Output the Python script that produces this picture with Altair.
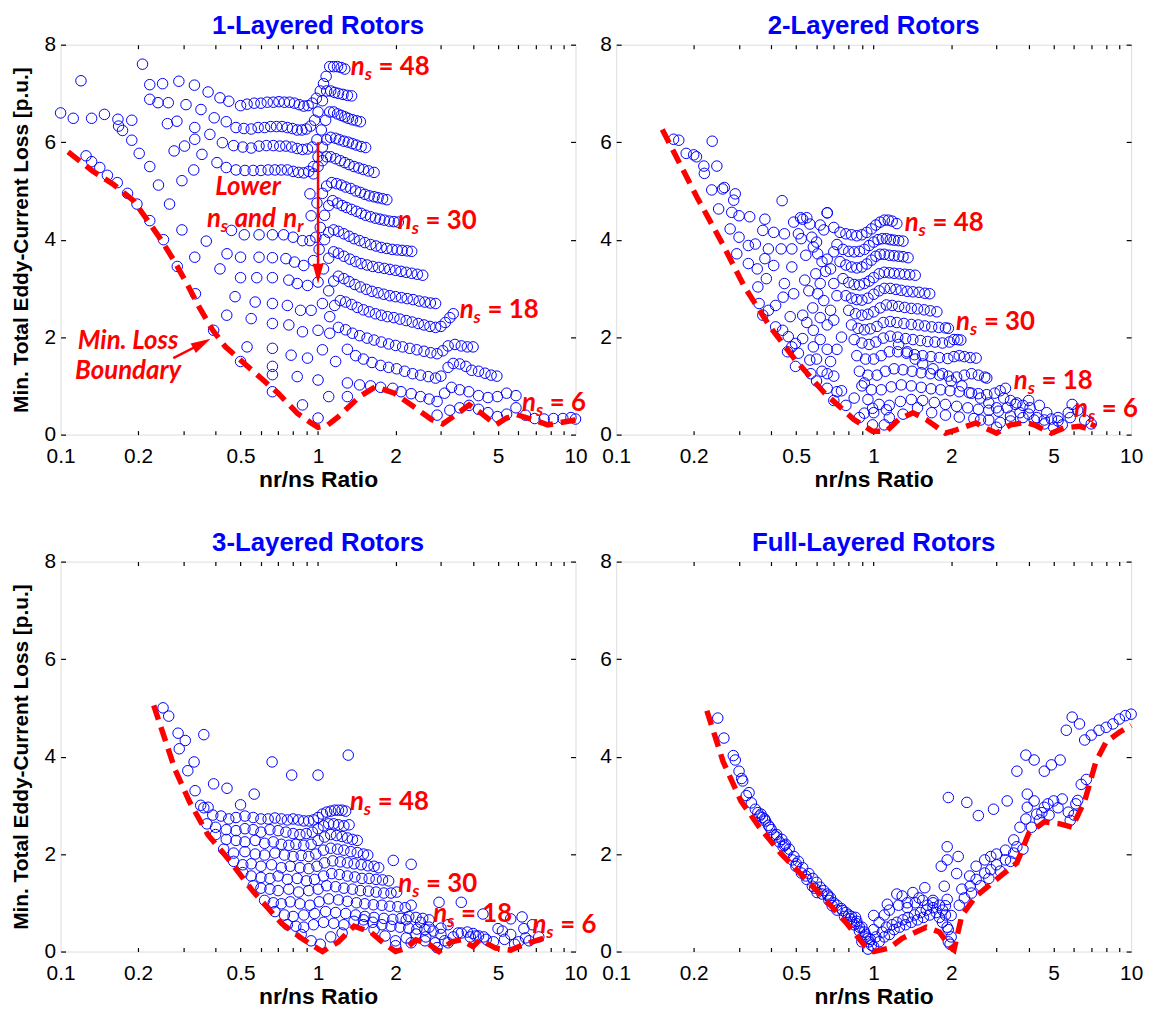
import altair as alt
import pandas as pd

FONT = "Liberation Sans"
ANN_FONT = "Lato"
BLUE = "#0000FF"
RED = "#FF0000"

PANEL_TITLES = ["1-Layered Rotors", "2-Layered Rotors", "3-Layered Rotors", "Full-Layered Rotors"]
X_LABEL_VALUES = [0.1, 0.2, 0.5, 1, 2, 5, 10]
X_TICK_VALUES = [0.2, 0.3, 0.4, 0.5, 0.6, 0.7, 0.8, 0.9, 1, 2, 3, 4, 5, 6, 7, 8, 9]
Y_VALUES = [0, 2, 4, 6, 8]

# ---------------- Panel 1 : 1-layered rotors ----------------
P1_POINTS = [
    (0.100, 6.60), (0.112, 6.49), (0.120, 7.26), (0.1256, 5.72), (0.132, 5.60), (0.132, 6.49), (0.142, 5.48),
    (0.148, 6.57), (0.152, 5.32), (0.166, 5.17), (0.167, 6.47), (0.168, 6.33), (0.174, 6.24), (0.182, 4.95),
    (0.189, 6.45), (0.189, 6.04), (0.198, 4.73), (0.202, 5.77), (0.208, 7.60), (0.222, 7.18), (0.222, 6.88),
    (0.222, 5.50), (0.222, 4.39), (0.239, 6.81), (0.240, 5.12), (0.249, 7.20), (0.251, 4.00), (0.260, 6.38),
    (0.262, 6.81), (0.265, 4.73), (0.276, 5.82), (0.283, 6.43), (0.284, 3.45), (0.288, 7.25), (0.296, 5.21),
    (0.296, 4.20), (0.303, 5.92), (0.307, 6.77), (0.329, 5.43), (0.331, 7.17), (0.332, 6.30), (0.332, 6.06),
    (0.351, 6.67), (0.354, 5.75), (0.374, 7.03), (0.380, 6.16), (0.395, 6.50), (0.405, 5.58), (0.416, 6.91),
    (0.425, 5.99),
    # row 1
    (0.450, 6.84), (0.500, 6.75), (0.530, 6.78), (0.565, 6.80), (0.600, 6.80), (0.635, 6.82), (0.670, 6.82),
    (0.705, 6.83), (0.740, 6.82), (0.775, 6.82), (0.810, 6.80), (0.845, 6.77), (0.880, 6.74), (0.915, 6.75),
    (0.950, 6.80), (0.985, 6.90), (1.020, 7.05), (1.050, 7.20), (1.075, 7.35), (1.110, 7.55), (1.150, 7.55),
    (1.190, 7.55), (1.230, 7.53), (1.270, 7.50),
    # row 2
    (0.440, 6.42), (0.480, 6.30), (0.515, 6.28), (0.550, 6.27), (0.585, 6.30), (0.620, 6.30), (0.655, 6.32),
    (0.690, 6.32), (0.725, 6.32), (0.760, 6.30), (0.795, 6.28), (0.830, 6.25), (0.865, 6.25), (0.900, 6.27),
    (0.935, 6.33), (0.970, 6.45), (1.000, 6.62), (1.040, 6.85), (1.080, 7.05), (1.120, 7.05), (1.160, 7.02),
    (1.200, 7.00), (1.250, 6.98), (1.300, 6.96), (1.350, 6.95),
    # row 3
    (0.470, 5.93), (0.510, 5.90), (0.550, 5.88), (0.590, 5.92), (0.630, 5.93), (0.670, 5.93), (0.710, 5.92),
    (0.750, 5.92), (0.790, 5.90), (0.830, 5.87), (0.870, 5.85), (0.910, 5.86), (0.950, 5.90), (0.990, 6.05),
    (1.030, 6.25), (1.070, 6.45), (1.110, 6.62), (1.150, 6.62), (1.190, 6.58), (1.230, 6.55), (1.270, 6.52),
    (1.310, 6.49), (1.360, 6.46), (1.410, 6.44), (1.460, 6.42),
    # row 4
    (0.440, 5.48), (0.480, 5.43), (0.520, 5.42), (0.560, 5.42), (0.600, 5.42), (0.640, 5.43), (0.680, 5.43),
    (0.720, 5.43), (0.760, 5.43), (0.800, 5.40), (0.840, 5.38), (0.880, 5.37), (0.920, 5.40), (0.960, 5.50),
    (1.000, 5.70), (1.040, 5.90), (1.080, 6.05), (1.120, 6.10), (1.170, 6.08), (1.210, 6.05), (1.260, 6.02),
    (1.310, 6.00), (1.360, 5.97), (1.410, 5.94), (1.470, 5.91), (1.530, 5.89),
    # row 5
    (0.960, 5.35), (1.000, 5.50), (1.040, 5.62), (1.080, 5.70), (1.120, 5.70), (1.170, 5.66), (1.220, 5.62),
    (1.270, 5.58), (1.320, 5.54), (1.380, 5.50), (1.440, 5.47), (1.500, 5.44), (1.570, 5.41), (1.650, 5.38),
    # row 6
    (0.930, 4.94), (0.940, 4.49), (0.990, 4.75), (1.040, 4.95), (1.080, 5.10), (1.130, 5.17), (1.180, 5.15),
    (1.230, 5.12), (1.280, 5.08), (1.340, 5.05), (1.400, 5.00), (1.460, 4.97), (1.520, 4.93), (1.580, 4.90),
    (1.650, 4.88), (1.710, 4.86), (1.780, 4.84), (1.850, 4.82),
    # row 7
    (0.461, 4.19), (0.517, 4.10), (0.590, 4.10), (0.665, 4.10), (0.735, 4.10), (0.800, 4.05), (0.870, 3.98),
    (0.930, 3.98), (0.980, 4.05), (1.020, 4.25), (1.060, 4.50), (1.100, 4.70), (1.140, 4.80), (1.190, 4.75),
    (1.240, 4.70), (1.290, 4.66), (1.350, 4.62), (1.410, 4.58), (1.470, 4.54), (1.530, 4.50), (1.600, 4.47),
    (1.670, 4.44), (1.740, 4.42), (1.810, 4.40), (1.890, 4.38), (1.970, 4.37), (2.050, 4.36),
    # row 8
    (0.368, 3.97), (0.443, 3.71), (0.500, 3.64), (0.590, 3.64), (0.665, 3.63), (0.750, 3.61), (0.810, 3.54),
    (0.880, 3.47), (0.960, 3.57), (1.010, 3.80), (1.060, 4.00), (1.100, 4.15), (1.150, 4.20), (1.200, 4.17),
    (1.260, 4.12), (1.320, 4.07), (1.380, 4.02), (1.450, 3.98), (1.520, 3.94), (1.600, 3.90), (1.680, 3.87),
    (1.760, 3.84), (1.850, 3.82), (1.940, 3.80), (2.030, 3.79), (2.120, 3.78), (2.220, 3.77), (2.310, 3.76),
    # row 9
    (0.332, 3.64), (0.416, 3.40), (0.500, 3.22), (0.578, 3.22), (0.665, 3.22), (0.770, 3.17), (0.830, 3.10),
    (0.910, 3.06), (1.000, 3.13), (1.050, 3.40), (1.100, 3.62), (1.150, 3.75), (1.200, 3.72), (1.260, 3.66),
    (1.330, 3.60), (1.400, 3.55), (1.470, 3.51), (1.550, 3.48), (1.630, 3.45), (1.720, 3.43), (1.810, 3.41),
    (1.900, 3.39), (2.000, 3.37), (2.100, 3.35), (2.200, 3.33), (2.310, 3.31), (2.430, 3.29), (2.550, 3.27),
    # row 10
    (0.334, 2.89), (0.476, 2.83), (0.570, 2.72), (0.665, 2.69), (0.760, 2.65), (0.855, 2.55), (0.940, 2.55),
    (1.040, 2.69), (1.100, 2.95), (1.150, 3.15), (1.200, 3.25), (1.260, 3.20), (1.320, 3.14), (1.390, 3.08),
    (1.460, 3.03), (1.540, 2.98), (1.620, 2.94), (1.710, 2.91), (1.800, 2.88), (1.900, 2.85), (2.000, 2.83),
    (2.110, 2.81), (2.220, 2.79), (2.340, 2.77), (2.470, 2.74), (2.600, 2.72), (2.730, 2.70), (2.860, 2.69),
    # row 11
    (0.393, 2.14), (0.442, 2.45), (0.550, 2.38), (0.665, 2.28), (0.770, 2.25), (0.870, 2.11), (1.000, 2.14),
    (1.110, 2.42), (1.160, 2.65), (1.220, 2.75), (1.280, 2.72), (1.350, 2.67), (1.420, 2.61), (1.500, 2.56),
    (1.580, 2.52), (1.670, 2.48), (1.760, 2.45), (1.860, 2.42), (1.970, 2.40), (2.080, 2.37), (2.200, 2.34),
    (2.320, 2.31), (2.450, 2.28), (2.580, 2.25), (2.720, 2.22), (2.860, 2.20), (3.000, 2.22), (3.120, 2.30),
    (3.250, 2.40), (3.350, 2.48),
    # row 12
    (0.500, 1.50), (0.530, 1.80), (0.665, 1.77), (0.786, 1.63), (0.910, 1.57), (1.040, 1.74), (1.110, 2.08),
    (1.200, 2.20), (1.280, 2.15), (1.360, 2.08), (1.450, 2.03), (1.550, 1.98), (1.650, 1.94), (1.760, 1.90),
    (1.880, 1.86), (2.000, 1.83), (2.130, 1.80), (2.270, 1.77), (2.420, 1.74), (2.580, 1.71), (2.740, 1.68),
    (2.900, 1.66), (3.050, 1.72), (3.200, 1.82), (3.400, 1.85), (3.600, 1.82), (3.800, 1.80), (4.000, 1.80),
    # row 13
    (0.665, 1.40), (0.665, 1.23), (0.830, 1.19), (1.000, 1.12), (1.170, 1.50), (1.300, 1.75), (1.400, 1.62),
    (1.500, 1.55), (1.620, 1.48), (1.750, 1.42), (1.880, 1.38), (2.020, 1.35), (2.170, 1.30), (2.330, 1.25),
    (2.500, 1.22), (2.680, 1.19), (2.860, 1.16), (3.000, 1.20), (3.200, 1.38), (3.350, 1.46), (3.550, 1.45),
    (3.750, 1.40), (3.950, 1.32), (4.200, 1.30), (4.450, 1.26), (4.700, 1.22), (4.950, 1.20),
    # row 14
    (0.665, 0.88), (0.870, 0.61), (1.000, 0.34), (1.100, 0.78), (1.300, 1.06), (1.300, 0.78), (1.450, 1.02),
    (1.600, 1.00), (1.750, 0.97), (1.950, 0.95), (2.100, 0.88), (2.300, 0.84), (2.500, 0.78), (2.700, 0.73),
    (2.900, 0.68), (3.100, 0.85), (3.300, 0.97), (3.550, 0.92), (3.850, 0.88), (4.200, 0.80), (4.570, 0.76),
    (4.970, 0.78), (5.400, 0.85), (5.870, 0.80),
    # row 15 (ns = 6)
    (2.900, 0.40), (3.250, 0.50), (3.550, 0.55), (3.860, 0.60), (4.200, 0.52), (4.570, 0.45), (4.970, 0.37),
    (5.400, 0.42), (5.870, 0.55), (6.390, 0.40), (6.940, 0.33), (7.550, 0.32), (8.210, 0.33), (8.930, 0.33),
    (9.600, 0.35), (10.00, 0.32),
]
P1_BOUNDARY = [
    (0.107, 5.80), (0.133, 5.41), (0.160, 5.14), (0.192, 4.80), (0.220, 4.36), (0.247, 3.98), (0.278, 3.54),
    (0.312, 3.06), (0.345, 2.62), (0.390, 2.14), (0.437, 1.80), (0.517, 1.46), (0.612, 1.12), (0.700, 0.85),
    (0.830, 0.44), (0.940, 0.24), (1.000, 0.15), (1.080, 0.18), (1.200, 0.37), (1.450, 0.78), (1.670, 0.98),
    (1.980, 0.85), (2.340, 0.58), (2.760, 0.31), (3.050, 0.22), (3.500, 0.44), (3.860, 0.61), (4.300, 0.44),
    (4.900, 0.20), (5.400, 0.34), (5.900, 0.41), (6.800, 0.31), (7.800, 0.20), (8.600, 0.24), (10.00, 0.30),
]
P1_NS_LABELS = [(1.34, 7.55, "= 48"), (2.04, 4.39, "= 30"), (3.55, 2.55, "= 18"), (6.2, 0.65, "= 6")]

# ---------------- Panel 2 : 2-layered rotors ----------------
P2_POINTS = [
    (0.167, 6.06), (0.175, 6.04), (0.187, 5.77), (0.200, 5.74), (0.205, 5.70), (0.219, 5.51), (0.220, 5.36),
    (0.236, 6.02), (0.246, 5.51), (0.235, 5.02), (0.259, 5.04), (0.263, 5.07), (0.250, 4.63), (0.290, 4.94),
    (0.286, 4.81), (0.281, 4.56), (0.277, 4.22), (0.300, 4.49), (0.330, 4.47), (0.300, 4.05), (0.294, 3.71),
    (0.326, 3.88), (0.347, 3.91), (0.326, 3.51), (0.353, 3.40), (0.378, 4.42), (0.371, 4.19), (0.409, 4.15),
    (0.390, 3.81), (0.378, 3.61), (0.409, 3.47), (0.383, 3.20), (0.355, 3.03), (0.359, 2.69), (0.390, 2.55),
    (0.371, 2.45), (0.416, 2.65), (0.416, 2.21), (0.443, 2.14), (0.441, 4.80), (0.450, 4.12), (0.437, 3.81),
    (0.481, 3.81), (0.481, 3.44), (0.450, 3.10), (0.489, 2.89), (0.445, 2.82), (0.474, 2.42), (0.466, 2.01),
    (0.481, 1.80), (0.463, 1.70), (0.497, 1.87), (0.497, 1.40), (0.510, 1.67), (0.530, 1.97), (0.530, 2.45),
    (0.540, 3.17), (0.545, 3.68), (0.523, 4.02), (0.489, 4.36), (0.530, 4.42), (0.565, 4.32), (0.510, 4.12),
    (0.583, 3.85), (0.575, 4.05), (0.606, 3.71), (0.596, 3.30), (0.606, 2.89), (0.583, 2.14), (0.583, 1.80),
    (0.565, 1.53), (0.520, 4.45), (0.550, 4.45), (0.620, 4.30), (0.640, 4.20), (0.660, 4.55), (0.600, 3.95),
    (0.630, 3.55), (0.650, 3.35), (0.620, 3.10), (0.560, 2.95), (0.640, 2.75), (0.580, 2.60), (0.620, 2.40),
    (0.660, 2.25), (0.550, 2.30), (0.620, 1.95), (0.660, 1.75), (0.600, 1.55), (0.630, 1.30), (0.570, 1.25),
    (0.600, 1.10), (0.660, 0.95), (0.700, 0.70), (0.750, 0.90), (0.780, 0.60), (0.840, 0.75), (0.880, 0.35),
    (0.920, 0.44), (0.990, 0.20), (1.100, 0.20), (0.990, 0.54), (1.120, 0.51), (0.920, 1.06), (0.700, 1.20),
    (0.720, 0.88), (0.660, 1.25), (0.680, 1.50), (0.720, 1.75), (0.750, 2.00), (0.700, 2.35), (0.680, 2.55),
    (0.720, 2.85), (0.700, 3.10), (0.680, 3.40), (0.660, 3.60), (0.700, 3.75),
    # rows
    (0.66, 4.55), (0.70, 4.25), (0.74, 4.15), (0.78, 4.12), (0.82, 4.10), (0.86, 4.08), (0.90, 4.10),
    (0.94, 4.15), (0.98, 4.22), (1.02, 4.30), (1.06, 4.36), (1.10, 4.40), (1.14, 4.40), (1.18, 4.38), (1.23, 4.33),
    (0.72, 3.90), (0.76, 3.80), (0.80, 3.76), (0.84, 3.75), (0.88, 3.76), (0.92, 3.80), (0.96, 3.88), (1.00, 3.95),
    (1.04, 4.00), (1.08, 4.02), (1.12, 4.02), (1.16, 4.00), (1.20, 3.99), (1.25, 3.98), (1.30, 3.97),
    (0.74, 3.55), (0.78, 3.48), (0.82, 3.44), (0.86, 3.42), (0.90, 3.44), (0.94, 3.50), (0.98, 3.58), (1.02, 3.66),
    (1.06, 3.70), (1.10, 3.70), (1.15, 3.68), (1.20, 3.67), (1.25, 3.66), (1.30, 3.65), (1.36, 3.63),
    (0.76, 3.20), (0.80, 3.12), (0.84, 3.08), (0.88, 3.07), (0.92, 3.10), (0.96, 3.15), (1.00, 3.22), (1.05, 3.30),
    (1.10, 3.33), (1.15, 3.32), (1.20, 3.31), (1.26, 3.30), (1.32, 3.29), (1.38, 3.28), (1.45, 3.27),
    (0.78, 2.85), (0.82, 2.80), (0.86, 2.77), (0.90, 2.76), (0.95, 2.80), (1.00, 2.88), (1.05, 2.95), (1.10, 3.00),
    (1.16, 3.00), (1.22, 2.98), (1.28, 2.96), (1.35, 2.94), (1.42, 2.93), (1.50, 2.92), (1.58, 2.90), (1.65, 2.89),
    (0.80, 2.55), (0.85, 2.48), (0.90, 2.45), (0.95, 2.47), (1.00, 2.52), (1.06, 2.60), (1.12, 2.66), (1.18, 2.65),
    (1.25, 2.63), (1.32, 2.61), (1.40, 2.59), (1.48, 2.58), (1.57, 2.56), (1.66, 2.54), (1.76, 2.52),
    (0.82, 2.25), (0.87, 2.18), (0.92, 2.15), (0.97, 2.17), (1.03, 2.22), (1.09, 2.30), (1.16, 2.32), (1.23, 2.30),
    (1.31, 2.28), (1.40, 2.26), (1.49, 2.25), (1.58, 2.23), (1.68, 2.21), (1.79, 2.20), (1.90, 2.19), (1.95, 2.18),
    (0.84, 1.95), (0.90, 1.88), (0.96, 1.85), (1.02, 1.90), (1.09, 1.98), (1.16, 2.02), (1.24, 2.00), (1.33, 1.97),
    (1.42, 1.95), (1.52, 1.93), (1.62, 1.91), (1.73, 1.90), (1.85, 1.88), (1.97, 1.90), (2.05, 1.95), (2.12, 1.95),
    (2.18, 1.94),
    (0.86, 1.62), (0.93, 1.55), (1.00, 1.55), (1.07, 1.62), (1.15, 1.70), (1.24, 1.70), (1.34, 1.67), (1.44, 1.64),
    (1.55, 1.62), (1.67, 1.60), (1.80, 1.58), (1.94, 1.56), (2.05, 1.60), (2.15, 1.62), (2.25, 1.60), (2.37, 1.58),
    (2.50, 1.57),
    (0.88, 1.30), (0.95, 1.22), (1.03, 1.22), (1.11, 1.30), (1.20, 1.35), (1.30, 1.33), (1.41, 1.30), (1.53, 1.27),
    (1.66, 1.25), (1.80, 1.22), (1.95, 1.20), (2.10, 1.18), (2.25, 1.22), (2.40, 1.25), (2.55, 1.22), (2.70, 1.18),
    (2.75, 1.16),
    (0.90, 1.00), (0.98, 0.92), (1.07, 0.92), (1.17, 0.98), (1.28, 1.02), (1.40, 1.00), (1.53, 0.97), (1.67, 0.94),
    (1.82, 0.92), (1.98, 0.90), (2.15, 0.88), (2.35, 0.86), (2.55, 0.84), (2.75, 0.82), (2.95, 0.85), (3.10, 0.90),
    (3.25, 0.95),
    (0.95, 0.72), (1.05, 0.62), (1.15, 0.60), (1.27, 0.68), (1.40, 0.72), (1.55, 0.70), (1.72, 0.66), (1.90, 0.62),
    (2.10, 0.58), (2.32, 0.55), (2.55, 0.52), (2.80, 0.50), (3.05, 0.48), (3.30, 0.55), (3.55, 0.62), (3.80, 0.60),
    (4.05, 0.55),
    (1.00, 0.45), (1.15, 0.35), (1.30, 0.42), (1.48, 0.55), (1.68, 0.45), (1.90, 0.40), (2.15, 0.36), (2.45, 0.33),
    (2.80, 0.30), (3.10, 0.25), (3.40, 0.38), (3.70, 0.45), (4.00, 0.42), (4.30, 0.35), (4.60, 0.30), (4.90, 0.32),
    (5.20, 0.28),
    (2.60, 0.30), (3.00, 0.15), (3.40, 0.28), (3.80, 0.35), (4.20, 0.30), (4.60, 0.22), (5.00, 0.15), (5.40, 0.20),
    (5.80, 0.35), (6.20, 0.50), (6.60, 0.30), (7.00, 0.22),
    (4.00, 0.70), (3.60, 0.65), (4.40, 0.60), (5.90, 0.62), (5.70, 0.45), (3.20, 0.75), (3.40, 0.70), (4.70, 0.45),
    (5.20, 0.35), (3.00, 0.55), (2.80, 0.65), (2.60, 0.75), (2.40, 0.85), (2.20, 1.00), (2.00, 1.10), (1.85, 1.25),
    (1.70, 1.35), (1.55, 1.45), (1.45, 1.55), (1.35, 1.70), (1.25, 1.85),
]
P2_BOUNDARY = [
    (0.151, 6.26), (0.206, 4.87), (0.259, 3.91), (0.315, 3.03), (0.396, 2.21), (0.497, 1.53), (0.645, 0.85),
    (0.838, 0.31), (0.990, 0.07), (1.120, 0.07), (1.250, 0.31), (1.420, 0.45), (1.600, 0.31), (1.900, 0.03),
    (2.100, 0.10), (2.500, 0.24), (2.700, 0.14), (3.000, 0.03), (3.400, 0.20), (3.900, 0.25), (4.200, 0.20),
    (4.900, 0.03), (5.500, 0.14), (6.300, 0.17), (7.000, 0.10), (7.200, 0.24),
]
P2_NS_LABELS = [(1.32, 4.34, "= 48"), (2.09, 2.31, "= 30"), (3.5, 1.09, "= 18"), (6.0, 0.52, "= 6")]

# ---------------- Panel 3 : 3-layered rotors ----------------
P3_POINTS = [
    (0.250, 5.00), (0.263, 4.83), (0.286, 4.48), (0.305, 4.33), (0.289, 4.16), (0.360, 4.45), (0.330, 3.89),
    (0.312, 3.71), (0.333, 3.30), (0.350, 3.00), (0.393, 3.44), (0.443, 3.35), (0.374, 2.96), (0.500, 3.01),
    (0.565, 3.23), (0.663, 3.89), (0.790, 3.62), (1.000, 3.62), (1.310, 4.03), (1.960, 1.87), (2.300, 1.79),
    (2.950, 1.01), (3.600, 1.01),
    (0.36, 2.95), (0.39, 2.80), (0.42, 2.78), (0.45, 2.72), (0.48, 2.75), (0.52, 2.78), (0.56, 2.75), (0.60, 2.72),
    (0.64, 2.72), (0.68, 2.74), (0.72, 2.72), (0.76, 2.70), (0.80, 2.72), (0.84, 2.70), (0.88, 2.68), (0.92, 2.68),
    (0.96, 2.70), (1.00, 2.75), (1.04, 2.82), (1.08, 2.86), (1.12, 2.88), (1.16, 2.90), (1.20, 2.90), (1.24, 2.90),
    (1.28, 2.88),
    (0.37, 2.62), (0.40, 2.55), (0.44, 2.50), (0.48, 2.48), (0.52, 2.52), (0.56, 2.50), (0.60, 2.45), (0.65, 2.50),
    (0.70, 2.48), (0.75, 2.45), (0.80, 2.42), (0.85, 2.40), (0.90, 2.42), (0.95, 2.45), (1.00, 2.52), (1.05, 2.58),
    (1.10, 2.62), (1.15, 2.62), (1.20, 2.60), (1.26, 2.58), (1.32, 2.60),
    (0.40, 2.40), (0.44, 2.30), (0.48, 2.28), (0.52, 2.25), (0.57, 2.28), (0.62, 2.22), (0.67, 2.25), (0.72, 2.20),
    (0.77, 2.18), (0.82, 2.20), (0.88, 2.18), (0.94, 2.20), (1.00, 2.28), (1.06, 2.35), (1.12, 2.40), (1.18, 2.38),
    (1.24, 2.36), (1.30, 2.33), (1.36, 2.30), (1.42, 2.28),
    (0.43, 2.10), (0.47, 2.02), (0.52, 2.05), (0.57, 2.00), (0.62, 1.98), (0.68, 2.02), (0.74, 1.98), (0.80, 1.95),
    (0.86, 1.97), (0.92, 1.95), (0.98, 2.00), (1.05, 2.08), (1.12, 2.12), (1.19, 2.10), (1.26, 2.08), (1.34, 2.05),
    (1.42, 2.03), (1.50, 2.00), (1.56, 1.98),
    (0.47, 1.85), (0.51, 1.78), (0.55, 1.80), (0.60, 1.75), (0.66, 1.78), (0.72, 1.72), (0.78, 1.75), (0.85, 1.72),
    (0.92, 1.70), (0.99, 1.75), (1.06, 1.82), (1.14, 1.86), (1.22, 1.84), (1.30, 1.82), (1.38, 1.80), (1.47, 1.78),
    (1.56, 1.76), (1.65, 1.75), (1.72, 1.72),
    (0.51, 1.62), (0.55, 1.55), (0.60, 1.52), (0.65, 1.50), (0.70, 1.55), (0.76, 1.48), (0.83, 1.50), (0.90, 1.45),
    (0.97, 1.48), (1.05, 1.55), (1.13, 1.60), (1.21, 1.58), (1.30, 1.55), (1.39, 1.53), (1.48, 1.50), (1.58, 1.50),
    (1.68, 1.48), (1.78, 1.47), (1.88, 1.45),
    (0.56, 1.35), (0.60, 1.30), (0.65, 1.28), (0.70, 1.25), (0.77, 1.28), (0.84, 1.22), (0.92, 1.25), (1.00, 1.28),
    (1.08, 1.35), (1.17, 1.33), (1.26, 1.30), (1.36, 1.28), (1.46, 1.25), (1.57, 1.24), (1.68, 1.22), (1.80, 1.20),
    (1.92, 1.20), (2.02, 1.22),
    (0.62, 1.05), (0.67, 1.00), (0.72, 0.98), (0.78, 1.02), (0.85, 0.98), (0.93, 0.95), (1.01, 1.02), (1.10, 1.08),
    (1.20, 1.06), (1.30, 1.03), (1.41, 1.00), (1.52, 0.98), (1.64, 0.96), (1.77, 0.95), (1.90, 0.93), (2.04, 0.92),
    (2.18, 0.90), (2.30, 0.95),
    (0.68, 0.82), (0.74, 0.75), (0.80, 0.72), (0.88, 0.75), (0.97, 0.78), (1.07, 0.82), (1.17, 0.80), (1.28, 0.78),
    (1.40, 0.75), (1.52, 0.72), (1.65, 0.70), (1.80, 0.68), (1.95, 0.66), (2.10, 0.68), (2.25, 0.72), (2.40, 0.70),
    (2.55, 0.68), (2.70, 0.65),
    (0.76, 0.55), (0.82, 0.52), (0.88, 0.50), (0.96, 0.55), (1.05, 0.60), (1.15, 0.58), (1.26, 0.55), (1.38, 0.62),
    (1.50, 0.65), (1.63, 0.60), (1.77, 0.55), (1.92, 0.52), (2.08, 0.50), (2.25, 0.48), (2.42, 0.46), (2.60, 0.45),
    (2.80, 0.42), (3.00, 0.48), (3.20, 0.55),
    (0.86, 0.35), (0.94, 0.22), (1.02, 0.15), (1.12, 0.30), (1.24, 0.38), (1.50, 0.55), (1.65, 0.45), (1.82, 0.32),
    (2.00, 0.22), (2.20, 0.28), (2.40, 0.36), (2.62, 0.30), (2.85, 0.18), (3.10, 0.22), (3.35, 0.30), (3.60, 0.38),
    (3.90, 0.30), (4.20, 0.32), (4.50, 0.25),
    (2.00, 0.12), (2.30, 0.18), (2.60, 0.22), (2.90, 0.08), (3.20, 0.18), (3.50, 0.38), (3.80, 0.40), (4.10, 0.32),
    (4.40, 0.30), (4.80, 0.20), (5.20, 0.42), (5.60, 0.35), (6.00, 0.20), (6.40, 0.28), (6.80, 0.55), (7.20, 0.30),
    (4.37, 0.77), (5.00, 0.47), (5.60, 0.67), (6.20, 0.71), (6.30, 0.47), (4.00, 0.37), (5.30, 0.25), (5.80, 0.15),
    (6.60, 0.22), (3.00, 0.35), (2.70, 0.50), (2.50, 0.60), (2.20, 0.65),
]
P3_BOUNDARY = [
    (0.230, 5.05), (0.278, 3.74), (0.317, 3.07), (0.374, 2.39), (0.456, 1.85), (0.556, 1.25), (0.724, 0.57),
    (0.880, 0.24), (1.040, 0.00), (1.200, 0.20), (1.380, 0.52), (1.600, 0.40), (1.800, 0.17), (2.000, 0.00),
    (2.200, 0.07), (2.400, 0.24), (2.700, 0.15), (2.950, 0.00), (3.300, 0.20), (3.600, 0.24), (4.000, 0.10),
    (4.250, 0.24), (4.900, 0.07), (5.600, 0.03), (6.000, 0.10), (6.800, 0.20), (7.500, 0.27),
]
P3_NS_LABELS = [(1.33, 3.07, "= 48"), (2.05, 1.39, "= 30"), (2.8, 0.77, "= 18"), (6.8, 0.54, "= 6")]

# ---------------- Panel 4 : full-layered rotors ----------------
P4_POINTS = [
    (0.248, 4.79), (0.262, 4.38), (0.285, 4.02), (0.290, 3.93), (0.307, 3.55), (0.328, 3.26), (0.347, 2.92),
    (0.365, 2.82), (0.377, 2.72), (0.390, 2.59), (0.410, 2.39), (0.430, 2.25), (0.445, 2.15), (0.460, 2.02),
    (0.483, 1.88), (0.499, 1.75), (0.524, 1.61), (0.550, 1.48), (0.578, 1.34), (0.603, 1.21), (0.665, 1.14),
    (0.690, 0.94), (0.757, 0.84), (0.810, 0.67), (0.860, 0.57), (0.920, 0.40), (0.950, 0.27), (0.980, 0.13),
    (0.370, 2.75), (0.380, 2.68), (0.400, 2.50), (0.420, 2.40), (0.440, 2.30), (0.455, 2.20), (0.470, 2.10),
    (0.490, 1.95), (0.510, 1.85), (0.530, 1.72), (0.560, 1.60), (0.580, 1.50), (0.600, 1.42), (0.620, 1.32),
    (0.640, 1.25), (0.660, 1.18), (0.680, 1.10), (0.700, 1.00), (0.720, 0.95), (0.750, 0.88), (0.780, 0.80),
    (0.820, 0.72), (0.860, 0.62), (0.900, 0.50), (0.355, 2.85), (0.335, 3.05), (0.320, 3.20), (0.300, 3.70),
    (0.310, 3.50), (0.360, 2.78), (0.395, 2.55), (0.420, 2.35), (0.450, 2.18), (0.500, 1.80), (0.545, 1.55),
    (0.590, 1.30), (0.630, 1.18), (0.670, 1.05), (0.720, 0.85), (0.770, 0.72), (0.840, 0.55), (0.880, 0.42),
    (0.930, 0.30), (0.960, 0.20),
    (1.00, 0.10), (1.02, 0.30), (1.05, 0.20), (1.08, 0.40), (1.10, 0.30), (1.12, 0.50), (1.15, 0.35), (1.18, 0.55),
    (1.20, 0.45), (1.23, 0.60), (1.26, 0.50), (1.30, 0.65), (1.33, 0.55), (1.36, 0.70), (1.40, 0.60), (1.44, 0.75),
    (1.48, 0.65), (1.52, 0.80), (1.56, 0.70), (1.60, 0.85), (1.65, 0.75), (1.70, 0.90), (1.75, 0.80), (1.80, 0.95),
    (1.85, 0.85), (1.90, 0.75), (1.05, 0.60), (1.10, 0.75), (1.15, 0.85), (1.25, 0.95), (1.35, 0.90), (1.45, 1.00),
    (1.55, 1.05), (1.70, 1.00), (1.80, 0.70), (1.85, 0.60), (1.95, 0.45), (2.00, 0.30), (1.98, 0.15), (0.95, 0.05),
    (0.90, 0.20), (0.93, 0.35), (0.97, 0.25), (1.00, 0.45), (0.88, 0.50), (0.85, 0.70), (0.82, 0.60), (0.80, 0.75),
    (1.00, 0.74), (1.13, 0.97), (1.23, 1.18), (1.29, 1.14), (1.42, 1.21), (1.58, 1.31), (1.35, 1.00), (1.50, 1.10),
    (1.62, 0.95), (1.70, 1.05),
    (1.83, 1.75), (1.93, 2.15), (1.95, 3.16), (1.93, 1.88), (1.88, 1.34), (1.93, 1.07), (1.90, 0.94), (2.00, 0.74),
    (1.93, 0.50), (1.95, 0.20), (2.13, 1.95), (2.10, 1.60),
    (2.30, 3.06), (2.55, 2.79), (2.92, 2.92), (3.30, 3.09), (3.60, 3.70), (3.90, 4.03), (4.20, 3.93), (4.60, 3.70),
    (4.90, 3.83), (5.30, 3.93), (5.60, 4.54), (5.90, 4.81), (6.30, 4.67), (6.60, 4.34), (7.00, 4.44), (7.50, 4.54),
    (8.00, 4.60), (8.50, 4.67), (9.00, 4.77), (9.50, 4.84), (10.00, 4.87),
    (2.36, 1.55), (2.50, 1.75), (2.70, 1.88), (2.85, 1.95), (3.00, 2.00), (3.25, 2.08), (3.50, 2.29), (3.70, 2.55),
    (3.90, 2.72), (3.95, 2.96), (3.95, 3.23), (4.20, 3.09), (4.30, 2.82), (4.60, 2.96), (4.75, 3.03), (5.00, 3.09),
    (5.40, 3.13), (5.70, 2.86), (5.80, 2.69), (6.10, 3.03), (6.40, 3.43), (6.70, 3.53),
    (2.20, 1.28), (2.37, 1.34), (2.50, 1.48), (2.70, 1.61), (2.85, 1.68), (3.00, 1.78), (3.25, 1.88), (3.50, 2.02),
    (3.60, 2.15), (2.15, 0.95), (2.25, 1.10), (2.40, 1.20), (2.60, 1.35), (2.80, 1.50), (3.10, 1.65), (3.40, 1.85),
    (3.80, 2.10), (4.10, 2.55), (4.40, 2.70), (4.50, 2.85), (5.20, 2.95), (4.80, 2.80), (6.00, 2.80), (6.20, 3.10),
]
P4_BOUNDARY = [
    (0.225, 4.94), (0.260, 3.90), (0.305, 3.09), (0.360, 2.55), (0.435, 2.02), (0.530, 1.55), (0.645, 1.08),
    (0.780, 0.60), (0.920, 0.13), (1.000, 0.00), (1.150, 0.07), (1.290, 0.27), (1.600, 0.50), (1.800, 0.40),
    (2.000, 0.07), (2.050, 0.03), (2.200, 0.74), (2.500, 1.14), (3.000, 1.48), (3.600, 1.82), (4.000, 2.42),
    (4.600, 2.66), (5.300, 2.62), (5.900, 2.55), (6.600, 3.09), (7.300, 3.90), (8.000, 4.30), (9.000, 4.50),
    (10.00, 4.64),
]

# ---------------- Annotations of panel 1 ----------------
P1_PLAIN_TEXT = [(0.535, 5.07, "Lower"), (0.183, 1.92, "Min. Loss"), (0.183, 1.30, "Boundary")]
P1_ARROWS = [("down", 1.0, 6.0), ("down", 1.0, 3.4), ("diag", 0.274, 1.57), ("diag", 0.36, 1.89)]
P1_HEAD_DOWN = [(1.0, 3.3)]
P1_HEAD_DIAG = [(0.354, 1.87)]
P1_NSNR_ANCHOR = [(0.37, 4.43)]

W, H = 519, 393
XS = alt.Scale(type="log", domain=[0.1, 10], nice=False)
YS = alt.Scale(domain=[0, 8], nice=False)
ANN_SIZE = 26
SUB_SIZE = 18


def x_label_axis():
    return alt.Axis(values=X_LABEL_VALUES, format="~g", ticks=False, domain=False, grid=False,
                    labelFont=FONT, labelFontSize=21, labelColor="black", labelPadding=11,
                    labelFlush=False, labelOverlap=False,
                    title="nr/ns Ratio", titleFont=FONT, titleFontSize=23, titleFontWeight="bold",
                    titleColor="black", titlePadding=2)


def y_label_axis(with_title):
    kw = dict(values=Y_VALUES, format="d", ticks=False, domain=False, grid=False,
              labelFont=FONT, labelFontSize=21, labelColor="black", labelPadding=5,
              labelFlush=False, labelOverlap=False)
    if with_title:
        kw.update(title="Min. Total Eddy-Current Loss [p.u.]", titleFont=FONT, titleFontSize=21,
                  titleFontWeight="bold", titleColor="black", titlePadding=13)
    else:
        kw.update(title=None)
    return alt.Axis(**kw)


def tick_axis(orient, values, size):
    return alt.Axis(orient=orient, values=values, labels=False, domain=False, grid=False, ticks=True,
                    tickSize=size, tickColor="black", tickWidth=1.2, offset=-size, title=None)


def xenc(axis):
    return alt.X("x:Q", scale=XS, axis=axis)


def yenc(axis):
    return alt.Y("y:Q", scale=YS, axis=axis)


def ns_layers(labels):
    df = pd.DataFrame(labels, columns=["x", "y", "lab"])
    base = alt.Chart(df)
    common = dict(align="left", baseline="middle", font=ANN_FONT, fontWeight="bold", color=RED)
    n = base.mark_text(text="n", fontSize=ANN_SIZE, fontStyle="italic", **common).encode(
        x=xenc(None), y=yenc(None))
    s = base.mark_text(text="s", fontSize=SUB_SIZE, fontStyle="italic", dx=14, dy=8, **common).encode(
        x=xenc(None), y=yenc(None))
    rest = base.mark_text(fontSize=ANN_SIZE, dx=28, **common).encode(
        x=xenc(None), y=yenc(None), text="lab:N")
    return [n, s, rest]


def panel1_extras():
    common = dict(baseline="middle", font=ANN_FONT, fontWeight="bold", fontStyle="italic", color=RED)
    plain = alt.Chart(pd.DataFrame(P1_PLAIN_TEXT, columns=["x", "y", "t"])).mark_text(
        align="center", fontSize=ANN_SIZE, **common).encode(x=xenc(None), y=yenc(None), text="t:N")
    anc = alt.Chart(pd.DataFrame(P1_NSNR_ANCHOR, columns=["x", "y"]))
    parts = [
        anc.mark_text(text="n", align="left", fontSize=ANN_SIZE, **common),
        anc.mark_text(text="s", align="left", fontSize=SUB_SIZE, dx=14, dy=8, **common),
        anc.mark_text(text="and", align="left", fontSize=ANN_SIZE, dx=28, **common),
        anc.mark_text(text="n", align="left", fontSize=ANN_SIZE, dx=77, **common),
        anc.mark_text(text="r", align="left", fontSize=SUB_SIZE, dx=91, dy=8, **common),
    ]
    parts = [p.encode(x=xenc(None), y=yenc(None)) for p in parts]
    arrows = alt.Chart(pd.DataFrame(P1_ARROWS, columns=["a", "x", "y"])).mark_line(
        color=RED, strokeWidth=2.5).encode(x=xenc(None), y=yenc(None), detail="a:N")
    head_down = alt.Chart(pd.DataFrame(P1_HEAD_DOWN, columns=["x", "y"])).mark_point(
        shape="M-0.55,-1L0.55,-1L0,1Z", filled=True, color=RED, size=400, opacity=1, strokeWidth=0).encode(
        x=xenc(None), y=yenc(None))
    head_diag = alt.Chart(pd.DataFrame(P1_HEAD_DIAG, columns=["x", "y"])).mark_point(
        shape="M-0.55,1L0.55,1L0,-1Z", filled=True, color=RED, size=400, opacity=1, strokeWidth=0,
        angle=61).encode(x=xenc(None), y=yenc(None))
    return [arrows, head_down, head_diag, plain] + parts


def make_panel(title, points, boundary, ns_labels, with_ytitle, extras):
    pts = pd.DataFrame(points, columns=["x", "y"])
    bnd = pd.DataFrame(boundary, columns=["x", "y"])
    scatter = alt.Chart(pts).mark_point(shape="circle", filled=False, color=BLUE, size=112,
                                        strokeWidth=1, opacity=1).encode(
        x=xenc(x_label_axis()), y=yenc(y_label_axis(with_ytitle)))
    line = alt.Chart(bnd).mark_line(color=RED, strokeWidth=5.5, strokeDash=[15, 8]).encode(
        x=xenc(tick_axis("bottom", X_TICK_VALUES, 4)), y=yenc(tick_axis("left", Y_VALUES, 5)))
    ghost = alt.Chart(bnd).mark_line(strokeOpacity=0).encode(
        x=xenc(tick_axis("top", X_TICK_VALUES, 4)), y=yenc(tick_axis("right", Y_VALUES, 5)))
    layers = [scatter, line, ghost]
    if ns_labels:
        layers += ns_layers(ns_labels)
    layers += extras
    return alt.layer(*layers).resolve_axis(x="independent", y="independent").properties(
        width=W, height=H,
        title=alt.Title(title, font=FONT, fontSize=26, fontWeight="bold", color=BLUE, anchor="middle", offset=-5))


p1 = make_panel(PANEL_TITLES[0], P1_POINTS, P1_BOUNDARY, P1_NS_LABELS, True, panel1_extras())
p2 = make_panel(PANEL_TITLES[1], P2_POINTS, P2_BOUNDARY, P2_NS_LABELS, False, [])
p3 = make_panel(PANEL_TITLES[2], P3_POINTS, P3_BOUNDARY, P3_NS_LABELS, True, [])
p4 = make_panel(PANEL_TITLES[3], P4_POINTS, P4_BOUNDARY, [], False, [])

chart = alt.concat(p1, p2, p3, p4, columns=2, spacing={"row": 128, "column": 41}, bounds="flush").properties(
    padding={"left": 1, "top": 0, "right": 5, "bottom": 5}
).configure_view(stroke="black", strokeWidth=1.2).configure(background="white")

chart.save("out.html", embed_options={"renderer": "svg", "actions": False})
